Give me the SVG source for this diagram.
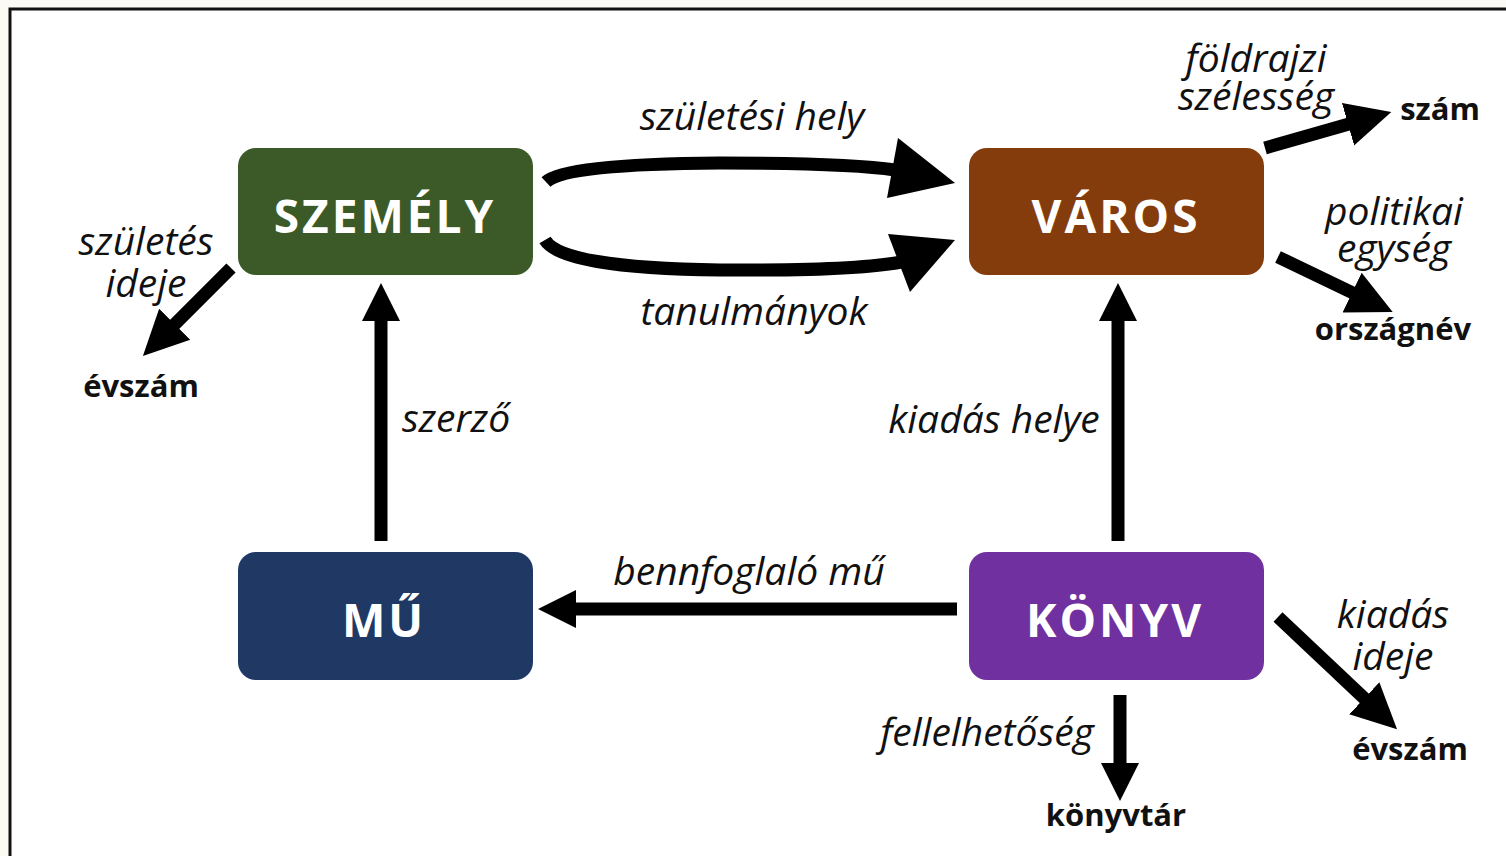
<svg xmlns="http://www.w3.org/2000/svg" width="1506" height="856" viewBox="0 0 1506 856">
<style>
.node text{font-family:"Open Sans","Liberation Sans",sans-serif;font-weight:700;font-size:46px;fill:#ffffff;text-anchor:middle;letter-spacing:3px}
.lbl{font-family:"Open Sans","Liberation Sans",sans-serif;font-style:italic;font-size:39px;fill:#111;text-anchor:middle}
.val{font-family:"Open Sans","Liberation Sans",sans-serif;font-weight:700;font-size:31px;fill:#111;text-anchor:middle}
.sh{stroke:#000;stroke-width:13;fill:none}
</style>
<defs>
<marker id="ah" markerUnits="userSpaceOnUse" markerWidth="40" markerHeight="40" viewBox="0 0 40 40" refX="1" refY="20" orient="auto">
<path d="M0,1 L38,20 L0,39 z" fill="#000"/>
</marker>
<marker id="ad" markerUnits="userSpaceOnUse" markerWidth="48" markerHeight="48" viewBox="0 0 48 48" refX="1" refY="24" orient="auto">
<path d="M0,2 L45,24 L0,46 z" fill="#000"/>
</marker>
</defs>
<rect x="0" y="0" width="1506" height="856" fill="#fbfbf3"/>
<rect x="10" y="9" width="1510" height="870" fill="#ffffff" stroke="#111" stroke-width="3"/>
<g id="connectors">
<path class="sh" d="M546 182 Q 565 164 720 163 Q 850 163 895 170"/>
<polygon points="955,183 898,138 887,198" fill="#000"/>
<path class="sh" d="M545 240 Q 562 268 720 270 Q 855 271 901 262"/>
<polygon points="955,240 888,234 910,292" fill="#000"/>
<line class="sh" x1="381" y1="541" x2="381" y2="320" marker-end="url(#ah)"/>
<line class="sh" x1="1118" y1="541" x2="1118" y2="320" marker-end="url(#ah)"/>
<line class="sh" x1="957" y1="609" x2="575" y2="609" marker-end="url(#ah)"/>
<line class="sh" x1="1120" y1="695" x2="1120" y2="764" marker-end="url(#ah)"/>
<line class="sh" x1="231" y1="268" x2="174" y2="325" marker-end="url(#ad)"/>
<line class="sh" x1="1265" y1="148" x2="1349" y2="124" marker-end="url(#ad)"/>
<line class="sh" x1="1278" y1="257" x2="1353" y2="293" marker-end="url(#ad)"/>
<line class="sh" x1="1278" y1="617" x2="1365" y2="699" marker-end="url(#ad)"/>
</g>
<g id="szemely" class="node"><rect x="238" y="148" width="295" height="127" rx="18" fill="#3b5a27"/><text x="385" y="233">SZEMÉLY</text></g>
<g id="varos" class="node"><rect x="969" y="148" width="295" height="127" rx="18" fill="#843c0c"/><text x="1116" y="233">VÁROS</text></g>
<g id="mu" class="node"><rect x="238" y="552" width="295" height="128" rx="18" fill="#1f3864"/><text x="384" y="637">MŰ</text></g>
<g id="konyv" class="node"><rect x="969" y="552" width="295" height="128" rx="18" fill="#7030a0"/><text x="1115" y="637">KÖNYV</text></g>
<g id="labels">
<text class="lbl" x="752" y="130">születési hely</text>
<text class="lbl" x="754" y="325">tanulmányok</text>
<text class="lbl" x="146" y="255">születés<tspan x="146" y="297">ideje</tspan></text>
<text class="val" x="141" y="397">évszám</text>
<text class="lbl" x="456" y="432">szerző</text>
<text class="lbl" x="994" y="433">kiadás helye</text>
<text class="lbl" x="749" y="585">bennfoglaló mű</text>
<text class="lbl" x="1256" y="72">földrajzi<tspan x="1256" y="110">szélesség</tspan></text>
<text class="val" x="1440" y="120">szám</text>
<text class="lbl" x="1394" y="225">politikai<tspan x="1394" y="262">egység</tspan></text>
<text class="val" x="1393" y="340">országnév</text>
<text class="lbl" x="1393" y="628">kiadás<tspan x="1393" y="670">ideje</tspan></text>
<text class="val" x="1410" y="760">évszám</text>
<text class="lbl" x="987" y="746">fellelhetőség</text>
<text class="val" x="1116" y="826">könyvtár</text>
</g>
</svg>
